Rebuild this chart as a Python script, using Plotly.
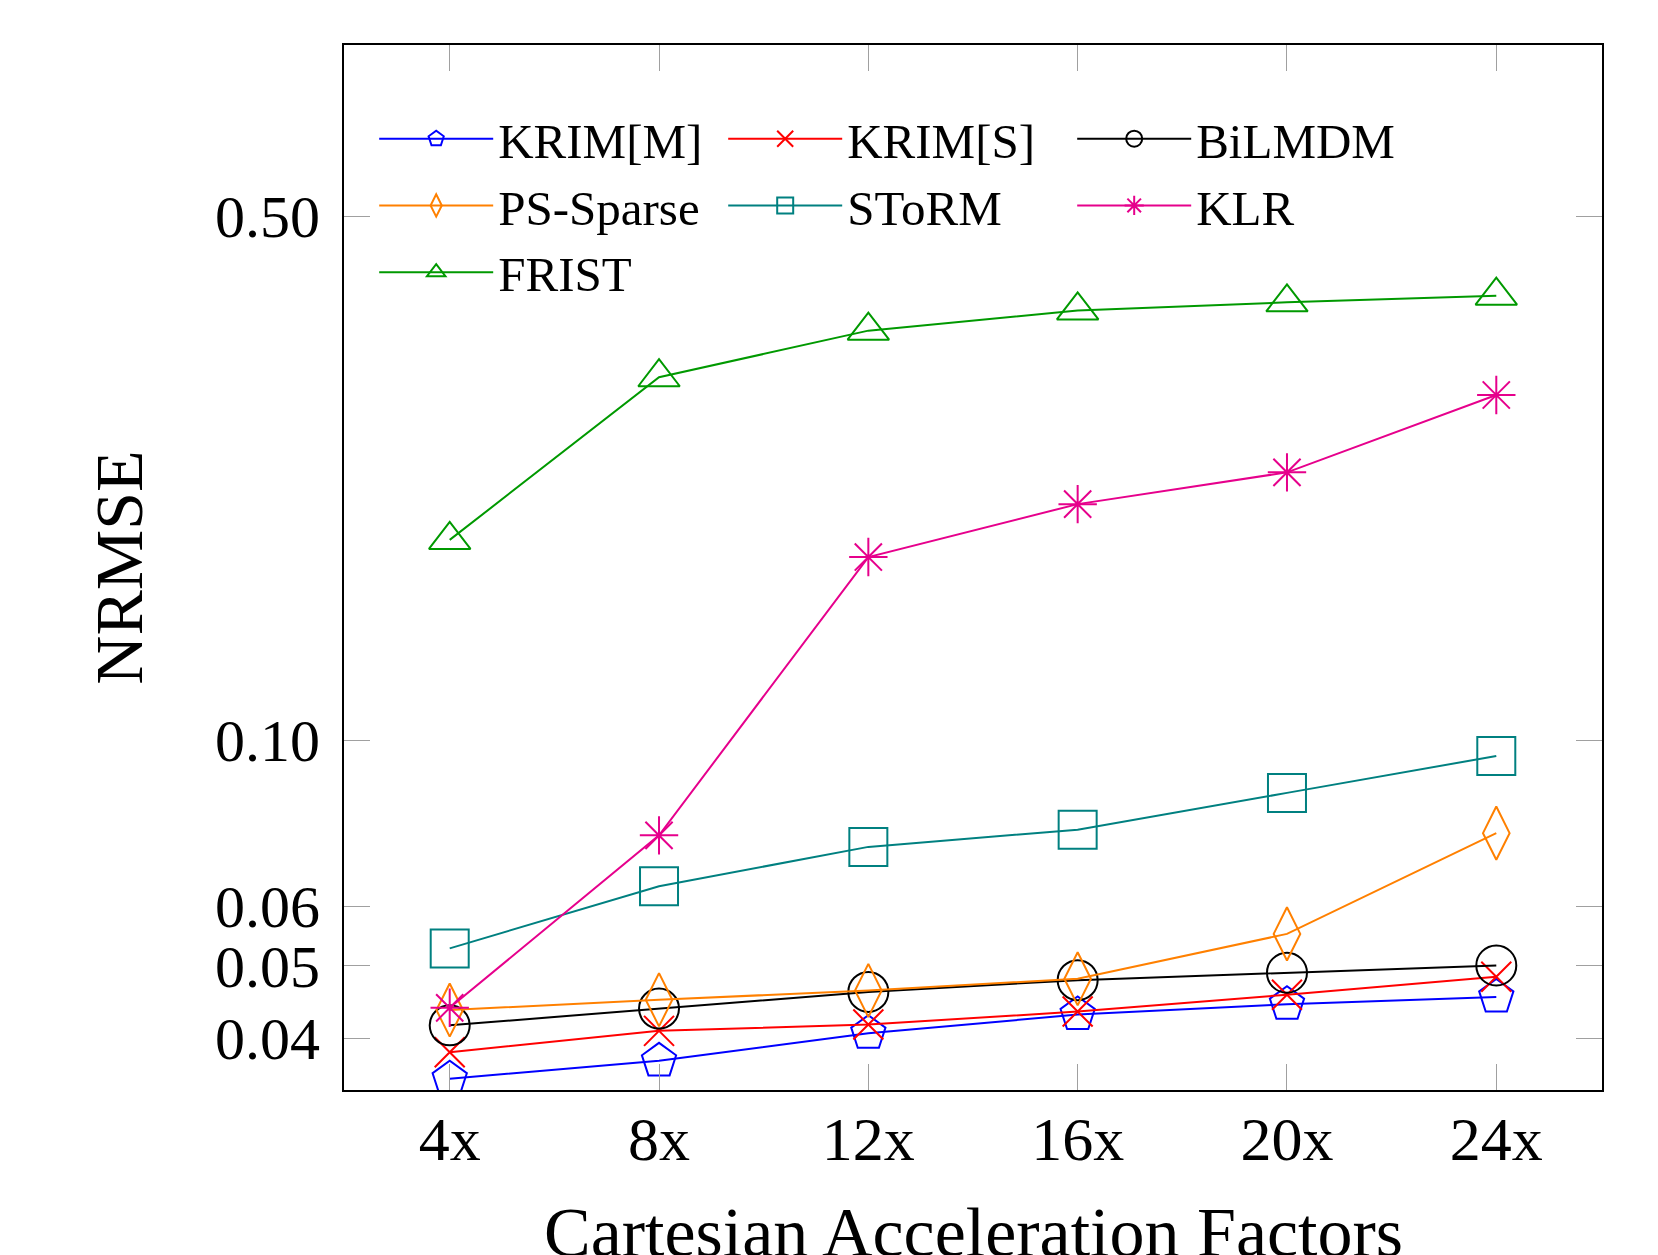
import plotly.graph_objects as go
import numpy as np

categories = ["4x", "8x", "12x", "16x", "20x", "24x"]

krim_m = [0.0353, 0.0373, 0.0406, 0.0430, 0.0444, 0.0454]
krim_s = [0.0383, 0.0409, 0.0417, 0.0434, 0.0457, 0.0483]
bilmdm = [0.0416, 0.0438, 0.0461, 0.0478, 0.0489, 0.0500]
ps_sparse = [0.0436, 0.0450, 0.0463, 0.0480, 0.0551, 0.0751]
storm = [0.0527, 0.0638, 0.0720, 0.0759, 0.0850, 0.0952]
klr = [0.0439, 0.0746, 0.1755, 0.2065, 0.2277, 0.2888]
frist = [0.185, 0.305, 0.352, 0.3745, 0.384, 0.392]

ytick_vals = [0.04, 0.05, 0.06, 0.10, 0.50]
ytick_text = ["0.04", "0.05", "0.06", "0.10", "0.50"]

series = [
    ("KRIM[M]", krim_m, "rgb(0,0,255)", "pentagon-open", 36),
    ("KRIM[S]", krim_s, "rgb(255,0,0)", "x-thin-open", 30),
    ("BiLMDM", bilmdm, "rgb(0,0,0)", "circle-open", 40),
    ("PS-Sparse", ps_sparse, "rgb(255,128,0)", "diamond-tall-open", 38),
    ("SToRM", storm, "rgb(0,128,128)", "square-open", 38),
    ("KLR", klr, "rgb(230,0,140)", "asterisk-open", 32),
    ("FRIST", frist, "rgb(0,153,0)", "triangle-up-open", 36),
]

FONT = "Liberation Serif"
fig = go.Figure()
xs = list(range(len(categories)))
for name, vals, color, sym, sz in series:
    fig.add_trace(go.Scatter(
        x=xs, y=vals, name=name, mode="lines+markers",
        line=dict(color=color, width=2),
        marker=dict(symbol=sym, size=sz, color=color, line=dict(color=color, width=2)),
    ))

fig.update_layout(
    width=1658, height=1255,
    margin=dict(l=336, r=64, t=37, b=173, autoexpand=False),
    paper_bgcolor="white", plot_bgcolor="white",
    font=dict(family=FONT, size=60, color="black"),
    showlegend=True,
    legend=dict(
        orientation="h", x=0.024, y=0.947, xanchor="left", yanchor="top",
        entrywidth=220, entrywidthmode="pixels",
        font=dict(family=FONT, size=49), bgcolor="rgba(0,0,0,0)",
        itemwidth=114, tracegroupgap=0,
    ),
    annotations=[dict(
        text="Cartesian Acceleration Factors", xref="paper", yref="paper",
        x=0.5, y=-0.136, xanchor="center", yanchor="middle", showarrow=False,
        font=dict(family=FONT, size=70, color="black"),
    )],
)
fig.update_xaxes(
    range=[-0.505, 5.505], tickvals=xs, ticktext=categories,
    showgrid=False, zeroline=False, automargin=False,
    showline=True, linecolor="black", linewidth=2, mirror="ticks",
    ticks="inside", ticklen=26, tickcolor="rgb(160,160,160)", tickwidth=1,
    ticklabelstandoff=-6, tickfont=dict(size=62),
)
fig.update_yaxes(
    type="log", range=[np.log10(0.0341), np.log10(0.847)],
    tickvals=ytick_vals, ticktext=ytick_text,
    showgrid=False, zeroline=False, automargin=False,
    showline=True, linecolor="black", linewidth=2, mirror="ticks",
    ticks="inside", ticklen=26, tickcolor="rgb(160,160,160)", tickwidth=1,
    ticklabelstandoff=10, tickfont=dict(size=60),
    title=dict(text="NRMSE", standoff=50, font=dict(size=68)),
)
fig.write_html("out.html")
